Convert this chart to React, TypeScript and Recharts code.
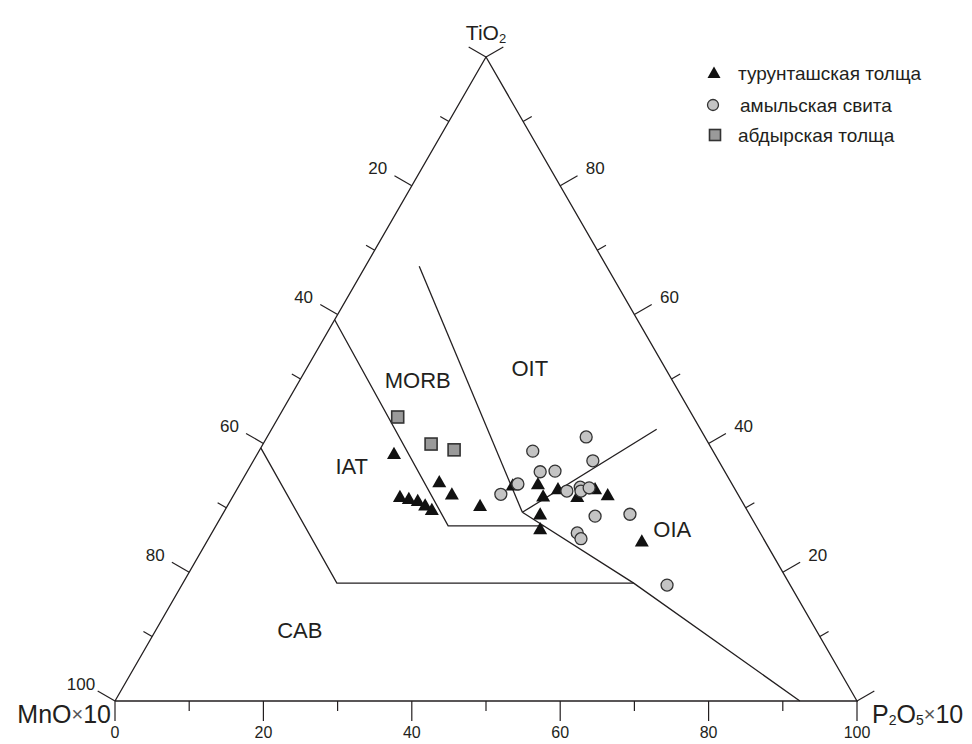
import React from 'react';
import { ScatterChart, Scatter, XAxis, YAxis, Legend } from 'recharts';

// Ternary plot MnO*10 – TiO2 – P2O5*10.
// Every point is kept as x = position along the base (P2O5 + TiO2/2) and t = TiO2.
type Pt = { x: number; t: number };

const turuntash: Pt[] = [
  { x: 37.6, t: 38.4 }, { x: 38.4, t: 31.7 }, { x: 39.6, t: 31.4 }, { x: 40.8, t: 31.1 },
  { x: 41.8, t: 30.4 }, { x: 42.7, t: 29.7 }, { x: 43.7, t: 34.0 }, { x: 45.4, t: 32.1 },
  { x: 49.2, t: 30.3 }, { x: 53.6, t: 33.5 }, { x: 57.0, t: 33.7 }, { x: 57.7, t: 31.8 },
  { x: 59.7, t: 32.9 }, { x: 62.3, t: 31.7 }, { x: 64.7, t: 32.9 }, { x: 66.4, t: 32.0 },
  { x: 57.3, t: 29.0 }, { x: 57.3, t: 26.7 }, { x: 71.0, t: 24.8 },
];

const amyl: Pt[] = [
  { x: 52.0, t: 32.1 }, { x: 54.3, t: 33.7 }, { x: 56.3, t: 38.8 }, { x: 57.3, t: 35.6 },
  { x: 59.3, t: 35.7 }, { x: 63.5, t: 41.0 }, { x: 64.4, t: 37.3 }, { x: 60.9, t: 32.6 },
  { x: 62.7, t: 33.2 }, { x: 62.8, t: 32.6 }, { x: 63.9, t: 33.1 }, { x: 64.7, t: 28.7 },
  { x: 69.4, t: 29.0 }, { x: 62.3, t: 26.1 }, { x: 62.8, t: 25.2 }, { x: 74.4, t: 18.0 },
];

const abdyr: Pt[] = [
  { x: 38.1, t: 44.1 }, { x: 42.6, t: 39.9 }, { x: 45.7, t: 39.0 },
];

const legendNames = ['турунташская толща', 'амыльская свита', 'абдырская толща'];

// outline and discrimination field boundaries
const outline: Pt[] = [{ x: 0, t: 0 }, { x: 50, t: 100 }, { x: 100, t: 0 }, { x: 0, t: 0 }];
const iatLine: Pt[] = [{ x: 29.6, t: 59.2 }, { x: 44.9, t: 27.2 }, { x: 57.8, t: 27.2 }];
const cabLine: Pt[] = [{ x: 19.65, t: 39.3 }, { x: 29.9, t: 18.3 }, { x: 69.9, t: 18.3 }];
const morbLine: Pt[] = [{ x: 41.0, t: 67.5 }, { x: 54.9, t: 29.3 }];
const oitLine: Pt[] = [{ x: 54.9, t: 29.3 }, { x: 73.0, t: 42.2 }];
const oiaLine: Pt[] = [{ x: 54.9, t: 29.3 }, { x: 69.9, t: 18.3 }, { x: 92.3, t: 0 }];

const fieldNames = ['MORB', 'OIT', 'IAT', 'CAB', 'OIA'];
const fieldNameAt: Pt[] = [
  { x: 40.8, t: 49.8 }, { x: 55.9, t: 51.7 }, { x: 31.9, t: 36.4 }, { x: 24.9, t: 11.0 }, { x: 75.1, t: 26.6 },
];

const tickValues = [0, 10, 20, 30, 40, 50, 60, 70, 80, 90, 100];
const leftLabels = [20, 40, 60, 80, 100];
const rightLabels = [20, 40, 60, 80];
const bottomLabels = [0, 20, 40, 60, 80, 100];

const INK = '#231f20';
const FONT = '"Liberation Sans", Arial, sans-serif';

const onLeft = (v: number) => ({ x: (100 - v) / 2, t: 100 - v, v });
const onRight = (v: number) => ({ x: 100 - v / 2, t: v, v });
const onBottom = (v: number) => ({ x: v, t: 0, v });

const none = () => <g />;

const tickShape = (dx: number, dy: number) => (p: any) => {
  const len = p.payload.v % 20 === 0 ? 20 : 10;
  return <line x1={p.cx} y1={p.cy} x2={p.cx + dx * len} y2={p.cy + dy * len} stroke={INK} strokeWidth={1.2} />;
};

const tickLabelShape = (ox: number, oy: number, size = 17) => (p: any) => (
  <text x={p.cx + ox} y={p.cy + oy} textAnchor="middle" dominantBaseline="central" fontSize={size} fontFamily={FONT} fill={INK}>
    {p.payload.v}
  </text>
);

const fieldShape = (p: any) => (
  <text x={p.cx} y={p.cy} textAnchor="middle" dominantBaseline="central" fontSize={22} fontFamily={FONT} fill={INK}>
    {p.payload.name}
  </text>
);

const vertexShape = (p: any) => {
  const k = p.payload.k;
  if (k === 'ti') {
    return (
      <text x={p.cx} y={p.cy - 25} textAnchor="middle" dominantBaseline="central" fontSize={21} fontFamily={FONT} fill={INK}>
        TiO<tspan dy={6} fontSize={13}>2</tspan>
      </text>
    );
  }
  if (k === 'mn') {
    return (
      <text x={p.cx - 4} y={p.cy + 13} textAnchor="end" dominantBaseline="central" fontSize={25} fontFamily={FONT} fill={INK}>
        MnO<tspan fontSize={20} fill="#555">×</tspan>10
      </text>
    );
  }
  return (
    <text x={p.cx + 15} y={p.cy + 13} textAnchor="start" dominantBaseline="central" fontSize={25} fontFamily={FONT} fill={INK}>
      P<tspan dy={6} fontSize={14}>2</tspan><tspan dy={-6}>O</tspan><tspan dy={6} fontSize={14}>5</tspan>
      <tspan dy={-6} fontSize={20} fill="#555">×</tspan>10
    </text>
  );
};

const triangle = (cx: number, cy: number, s = 7) => (
  <path d={`M${cx},${cy - s} L${cx + s},${cy + s * 0.75} L${cx - s},${cy + s * 0.75} Z`} fill="#111" />
);
const circle = (cx: number, cy: number, r = 6) => (
  <circle cx={cx} cy={cy} r={r} fill="#c4c4c4" stroke="#333" strokeWidth={1.3} />
);
const square = (cx: number, cy: number, s = 6) => (
  <rect x={cx - s} y={cy - s} width={s * 2} height={s * 2} fill="#9a9a9a" stroke="#333" strokeWidth={1.6} />
);

const renderLegend = () => (
  <svg width={270} height={100}>
    {triangle(14, 15, 6.5)}
    {circle(13, 47, 5.5)}
    {square(15, 77, 5.5)}
    {legendNames.map((n, i) => (
      <text key={n} x={i === 1 ? 40 : 38} y={[15, 47, 77][i]} dominantBaseline="central" fontSize={19} fontFamily={FONT} fill={INK}>
        {n}
      </text>
    ))}
  </svg>
);

const lineProps = { stroke: INK, strokeWidth: 1.3 };

export default function App() {
  return (
    <div style={{ position: 'absolute', left: 0, top: 0, background: '#fff' }}>
      <ScatterChart width={972} height={744} margin={{ top: 57, right: 115, bottom: 43, left: 115 }}>
        <XAxis type="number" dataKey="x" domain={[0, 100]} hide />
        <YAxis type="number" dataKey="t" domain={[0, 100]} hide />
        <Legend
          layout="vertical"
          align="center"
          verticalAlign="middle"
          wrapperStyle={{ top: 58, left: 700, width: 270, height: 100 }}
          content={renderLegend}
        />

        {[outline, iatLine, cabLine, morbLine, oitLine, oiaLine].map((d, i) => (
          <Scatter key={'ln' + i} data={d} line={lineProps} shape={none} legendType="none" isAnimationActive={false} />
        ))}

        <Scatter data={tickValues.map(onLeft)} shape={tickShape(-0.866, -0.5)} legendType="none" isAnimationActive={false} />
        <Scatter data={tickValues.map(onRight)} shape={tickShape(0.866, -0.5)} legendType="none" isAnimationActive={false} />
        <Scatter data={tickValues.map(onBottom)} shape={tickShape(0, 1)} legendType="none" isAnimationActive={false} />

        <Scatter data={leftLabels.map(onLeft)} shape={tickLabelShape(-34, -17)} legendType="none" isAnimationActive={false} />
        <Scatter data={rightLabels.map(onRight)} shape={tickLabelShape(35, -17)} legendType="none" isAnimationActive={false} />
        <Scatter data={bottomLabels.map(onBottom)} shape={tickLabelShape(0, 31, 16)} legendType="none" isAnimationActive={false} />

        <Scatter
          data={[{ x: 50, t: 100, k: 'ti' }, { x: 0, t: 0, k: 'mn' }, { x: 100, t: 0, k: 'p' }]}
          shape={vertexShape}
          legendType="none"
          isAnimationActive={false}
        />
        <Scatter
          data={fieldNames.map((name, i) => ({ ...fieldNameAt[i], name }))}
          shape={fieldShape}
          legendType="none"
          isAnimationActive={false}
        />

        <Scatter name={legendNames[0]} data={turuntash} shape={(p: any) => triangle(p.cx, p.cy)} isAnimationActive={false} />
        <Scatter name={legendNames[1]} data={amyl} shape={(p: any) => circle(p.cx, p.cy)} isAnimationActive={false} />
        <Scatter name={legendNames[2]} data={abdyr} shape={(p: any) => square(p.cx, p.cy)} isAnimationActive={false} />
      </ScatterChart>
    </div>
  );
}
